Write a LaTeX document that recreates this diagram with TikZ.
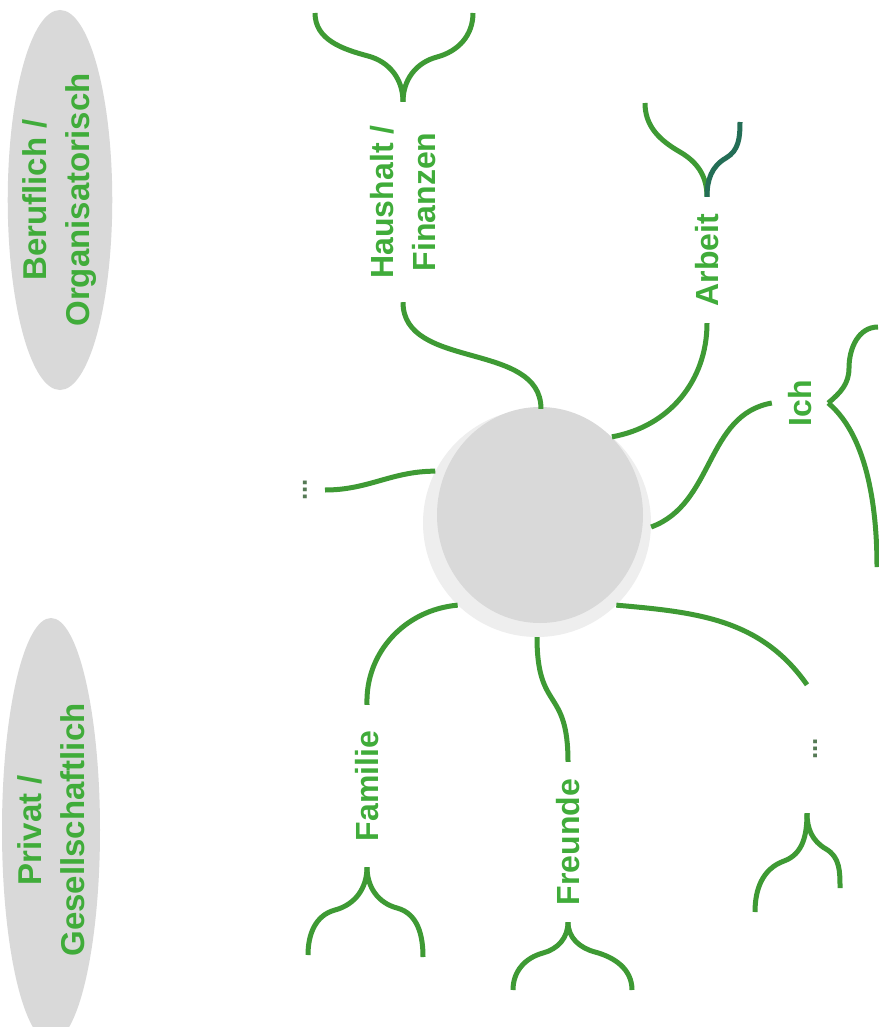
\documentclass[tikz,border=0pt]{standalone}
\usepackage{fontspec}
\setmainfont{Liberation Sans}
\usetikzlibrary{shapes.geometric}
\definecolor{lineg}{RGB}{62,154,52}
\definecolor{textg}{RGB}{64,172,58}
\definecolor{armteal}{RGB}{36,110,86}
\definecolor{circg}{RGB}{217,217,217}
\definecolor{shadg}{RGB}{238,238,238}
\definecolor{dotg}{RGB}{85,122,85}
\begin{document}
\begin{tikzpicture}[x=1pt,y=1pt,
  branch/.style={draw=lineg, line width=5pt},
  lbl/.style={rotate=90, text=textg, font=\bfseries\fontsize{32}{42}\selectfont, align=center, inner sep=0pt},
  cat/.style={ellipse, fill=circg, rotate=90, text=textg, font=\bfseries\fontsize{33}{43}\selectfont, align=center, inner sep=0pt},
  dotlbl/.style={rotate=90, text=dotg, font=\bfseries\fontsize{26}{30}\selectfont, inner sep=0pt}
]
\useasboundingbox (0,0) rectangle (878,-1027);
\fill[white] (0,0) rectangle (878,-1027);

% category ellipses
\node[cat, minimum width=380, minimum height=100] (beruf) at (60,-200) {Beruflich /\\Organisatorisch};
\node[cat, minimum width=424, minimum height=98] (privat) at (51,-830) {Privat /\\Gesellschaftlich};

% centre
\node[circle, fill=shadg, minimum size=228, inner sep=0pt] (c) at (537,-523) {};
\node[ellipse, fill=circg, minimum width=206, minimum height=216, inner sep=0pt] (core) at (540,-515) {};

% labels
\node[lbl, minimum width=200] (haus) at (403,-202) {Haushalt /\\Finanzen};
\node[lbl, minimum width=126] (arbeit) at (707,-260) {Arbeit};
\node[lbl, minimum height=56] (ich) at (800,-403) {Ich};
\node[lbl, minimum width=162] (fam) at (367,-786) {Familie};
\node[lbl, minimum width=160] (fr) at (568,-842) {Freunde};
\node[dotlbl, minimum width=128, text height=20pt, text depth=0pt] (dbr) at (807,-749) {...};
\node[dotlbl, anchor=south, inner ysep=18pt] (dl) at (325,-490) {...};

% connectors from the centre
\draw[branch] (haus.west) to[out=-90,in=90] (c.88);
\draw[branch] (arbeit.west) to[out=-90,in=10] (c.49);
\draw[branch] (c.-2) to[out=20,in=190] (ich.north);
\draw[branch] (c.153) to[out=180,in=0] (dl.south);
\draw[branch] (c.226) to[out=185,in=92] (fam.east);
\draw[branch] (c.270) to[out=-90,in=90,looseness=1.5] (fr.east);
\draw[branch] (c.-46) to[out=-5,in=125] (dbr.east);

% fork points
\coordinate (hausLm) at (368,-56);  \coordinate (hausL) at (315,-13);
\coordinate (hausRm) at (437,-57);  \coordinate (hausR) at (473,-13);
\coordinate (arbLm) at (680,-152);  \coordinate (arbL) at (645,-103);
\coordinate (arbRm) at (726,-158);  \coordinate (arbR) at (740,-122);
\coordinate (ichUm) at (849,-368);  \coordinate (ichU) at (878,-327);
\coordinate (ichD) at (877,-567);
\coordinate (famLm) at (335,-910);  \coordinate (famL) at (308,-955);
\coordinate (famRm) at (397,-908);  \coordinate (famR) at (423,-957);
\coordinate (frLm) at (543,-953);   \coordinate (frL) at (513,-990);
\coordinate (frRm) at (595,-952);   \coordinate (frR) at (632,-990);
\coordinate (dbrLm) at (784,-861);  \coordinate (dbrL) at (755,-912);
\coordinate (dbrRm) at (826,-849);  \coordinate (dbrR) at (840,-888);

% forks
\draw[branch] (haus.east) to[out=90,in=-15] (hausLm) to[out=165,in=-90] (hausL);
\draw[branch] (haus.east) to[out=90,in=195] (hausRm) to[out=15,in=-90] (hausR);
\draw[branch] (arbeit.east) to[out=90,in=-30] (arbLm) to[out=150,in=-90] (arbL);
\draw[branch, draw=armteal] (arbeit.east) to[out=90,in=210] (arbRm) to[out=30,in=-90] (arbR);
\draw[branch] (ich.south) to[out=40,in=-90] (ichUm) to[out=90,in=180] (ichU);
\draw[branch] (ich.south) to[out=-40,in=90,looseness=0.8] (ichD);
\draw[branch] (fam.west) to[out=-90,in=15] (famLm) to[out=195,in=90] (famL);
\draw[branch] (fam.west) to[out=-90,in=165] (famRm) to[out=-15,in=90] (famR);
\draw[branch] (fr.west) to[out=-90,in=15] (frLm) to[out=195,in=90] (frL);
\draw[branch] (fr.west) to[out=-90,in=165] (frRm) to[out=-15,in=90] (frR);
\draw[branch] (dbr.west) to[out=-90,in=20] (dbrLm) to[out=200,in=90] (dbrL);
\draw[branch] (dbr.west) to[out=-90,in=150] (dbrRm) to[out=-30,in=90] (dbrR);
\end{tikzpicture}
\end{document}
